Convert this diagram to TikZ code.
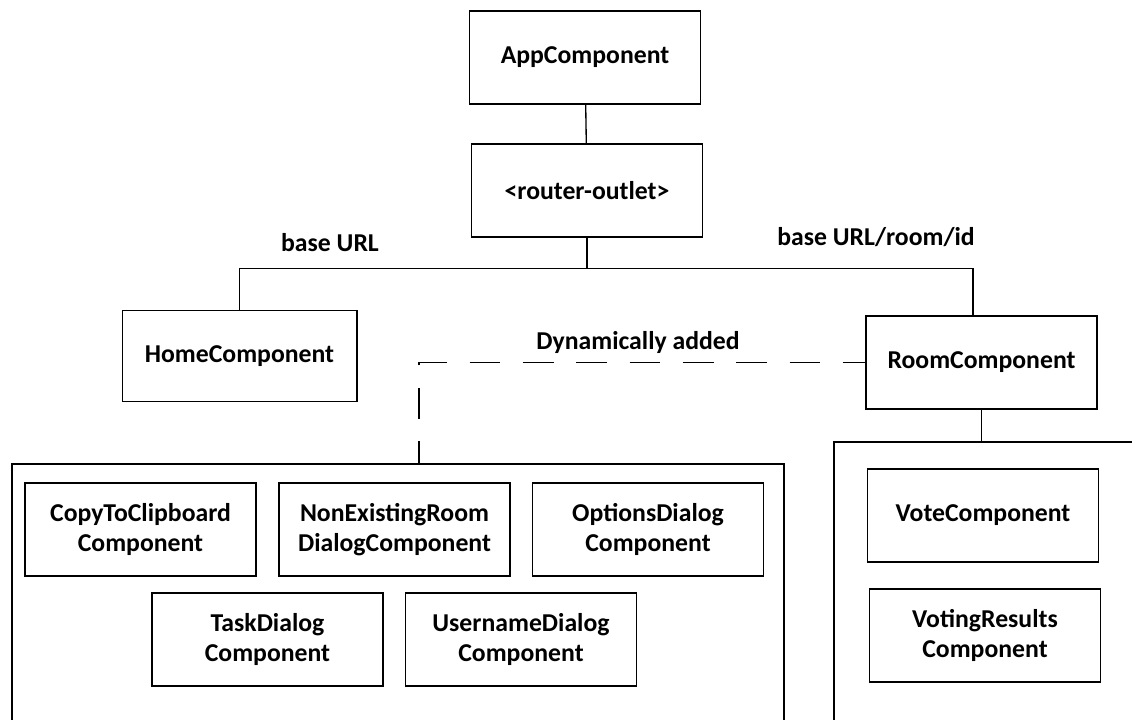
\documentclass[tikz,border=0pt]{standalone}
\usepackage{fontspec}
\setmainfont{Carlito}
\usepackage{tikz}

\tikzset{
  comp/.style={draw, line width=1pt, minimum width=173.25pt, minimum height=69.75pt,
    align=center, inner sep=0.75pt, font={\fontsize{19.3}{22.5}\selectfont\bfseries}},
  lbl/.style={inner sep=0.75pt, font={\fontsize{19.3}{22.5}\selectfont\bfseries}},
  wire/.style={line width=1pt},
  dynwire/.style={line width=1pt, dash pattern=on 23pt off 17pt, dash phase=6pt}
}

\begin{document}
\begin{tikzpicture}[x=0.75pt,y=0.75pt,yscale=-1,xscale=1]
\useasboundingbox (0,0) rectangle (1132,720);

% Component boxes
\node [comp] (app) at (585,57.5) {AppComponent};
\node [comp] (router) at (587,190.5) {<router-outlet>};
\node [comp, minimum width=176pt, minimum height=68pt] (home) at (239.5,356) {HomeComponent};
\node [comp] (room) at (981.5,362.5) {RoomComponent};

\node [comp] (copy) at (140.5,529.5) {CopyToClipboard\\Component};
\node [comp] (nonex) at (394.5,529.5) {NonExistingRoom\\DialogComponent};
\node [comp] (options) at (648,529.5) {OptionsDialog\\Component};
\node [comp] (task) at (267.5,639.5) {TaskDialog\\Component};
\node [comp] (user) at (521,639.5) {UsernameDialog\\Component};

\node [comp] (vote) at (983,515.5) {VoteComponent};
\node [comp] (results) at (985,635.5) {VotingResults\\Component};

% Text Node
\node [lbl] (baselbl) at (330,243) {base URL};
\node [lbl] (roomlbl) at (876,237) {base URL/room/id};
\node [lbl] (dynlbl) at (638,342) {Dynamically added};

% Containers (open at the page edge)
\draw [wire] (12,720) -- (12,464) -- (784,464) -- (784,720);
\draw [wire] (834,720) -- (834,442) -- (1132,442);
\coordinate (dyntop) at (419,464);
\coordinate (roomin) at (973,316);
\coordinate (rtop) at (834,442);

% Connectors
\draw [wire] (app) -- (router);
\draw [wire] (router.south) -- ++(0,31) coordinate (bus);
\draw [wire] (home.north) |- (bus) -| (roomin);
\draw [wire] (room.south) -- (room.south |- rtop);
\draw [dynwire] (dyntop) |- (room.west);

\end{tikzpicture}
\end{document}
